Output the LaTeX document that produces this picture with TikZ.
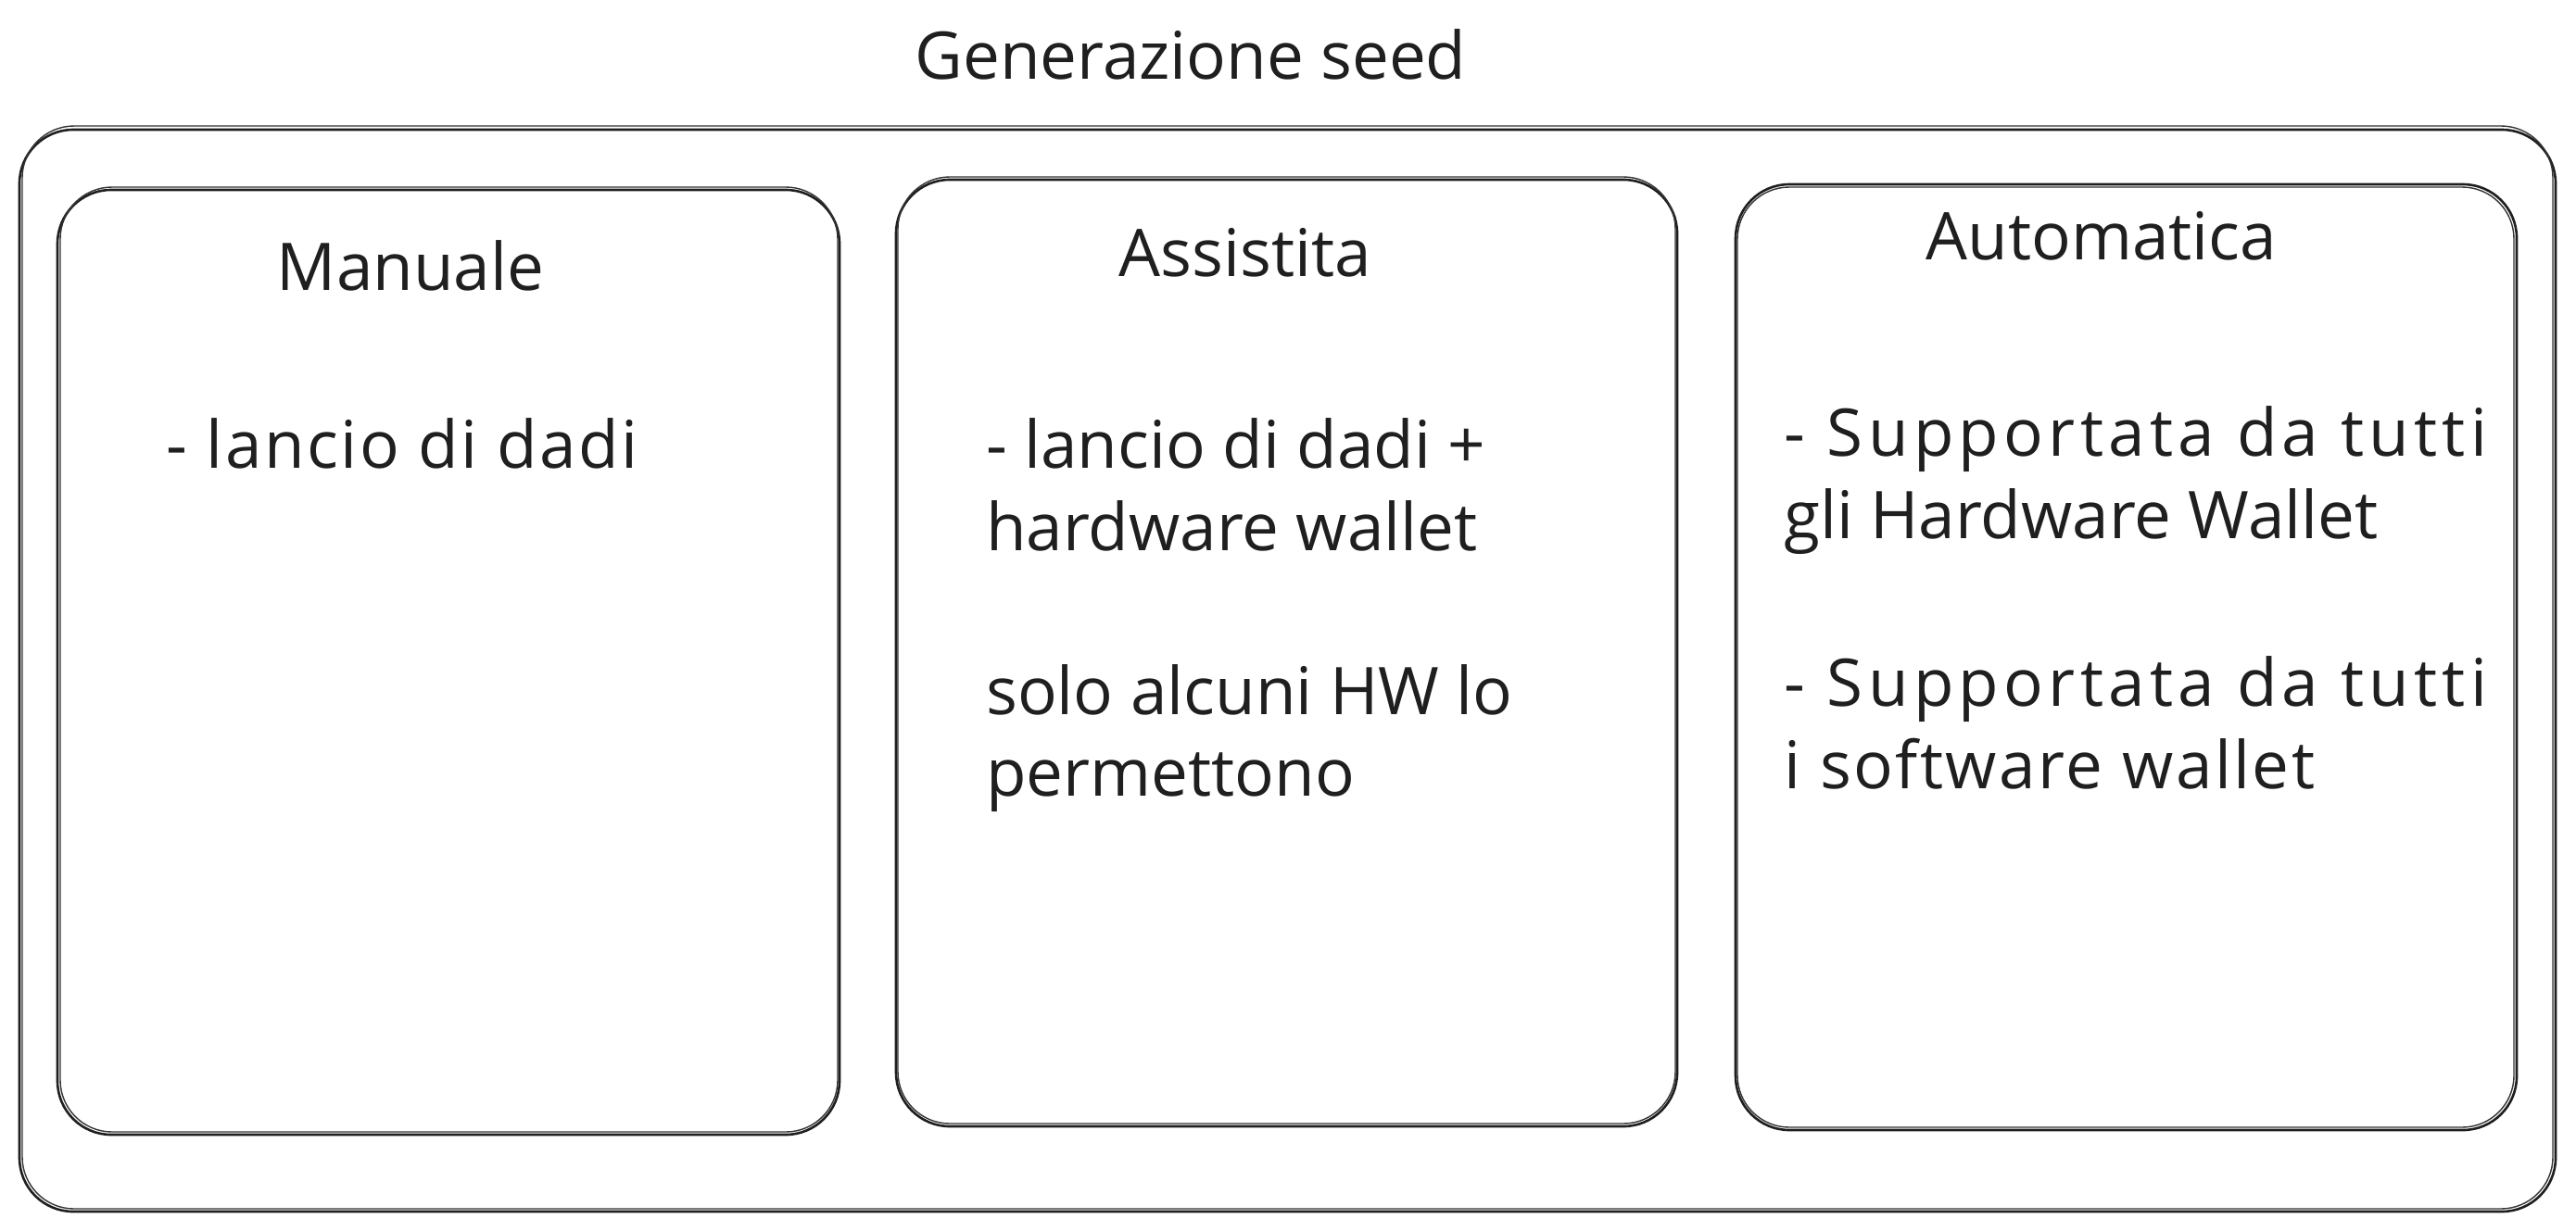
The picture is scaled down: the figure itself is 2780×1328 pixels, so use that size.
\documentclass[tikz,border=0pt]{standalone}
\usepackage{fontspec}
\setmainfont{Open Sans}
\begin{document}
\begin{tikzpicture}[x=1pt,y=-1pt,
  sk/.style={line width=2.6pt, draw=black!88, rounded corners=58pt},
  sk2/.style={line width=1.4pt, draw=black!80, rounded corners=56pt},
  ttl/.style={inner sep=0pt, font=\fontsize{71}{89}\selectfont, anchor=base, text=black!88},
  txt/.style={inner sep=0pt, font=\fontsize{71}{89}\selectfont, anchor=base west, text=black!88}]
\useasboundingbox[fill=white] (0,0) rectangle (2780,1328);
% outer frame
\draw[sk] (21,140) rectangle (2758,1308);
\draw[sk2] (24,136) rectangle (2755,1305);
% panels
\draw[sk] (62,205) rectangle (906,1225);
\draw[sk2] (65,202) rectangle (904,1222);
\draw[sk] (967,194) rectangle (1810,1216);
\draw[sk2] (969,191) rectangle (1808,1213);
\draw[sk] (1873,199) rectangle (2716,1220);
\draw[sk2] (1875,202) rectangle (2713,1217);
% titles
\node[ttl] (title) at (1285,85) {Generazione seed};
\node[ttl] (man) at (443,313) {Manuale};
\node[ttl] (ass) at (1344,298) {Assistita};
\node[ttl] (aut) at (2268,280) {Automatica};
% texts
\node[txt] (m1) at (179,505) {\addfontfeature{LetterSpace=3.5}- lancio di dadi};
\node[txt] (a1) at (1064,505) {- lancio di dadi +};
\node[txt] (a1b) at (1064,594) {hardware wallet};
\node[txt] (a2) at (1064,771) {solo alcuni HW lo};
\node[txt] (a2b) at (1064,859) {permettono};
\node[txt] (u1) at (1925,492) {\addfontfeature{LetterSpace=7.5}- Supportata da tutti};
\node[txt] (u1b) at (1925,581) {gli Hardware Wallet};
\node[txt] (u2) at (1925,762) {\addfontfeature{LetterSpace=7.5}- Supportata da tutti};
\node[txt] (u2b) at (1925,851) {\addfontfeature{LetterSpace=3.5}i software wallet};
\end{tikzpicture}
\end{document}
